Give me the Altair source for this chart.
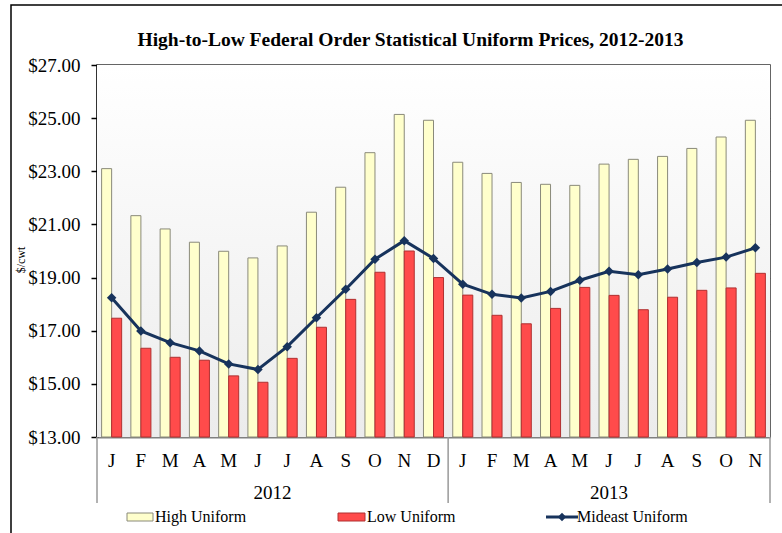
import altair as alt
import pandas as pd

months = ["J", "F", "M", "A", "M", "J", "J", "A", "S", "O", "N", "D",
          "J", "F", "M", "A", "M", "J", "J", "A", "S", "O", "N"]
years = ["2012"] * 12 + ["2013"] * 11

high_uniform = [23.10, 21.33, 20.83, 20.33, 19.99, 19.74, 20.19, 21.46, 22.40, 23.70, 25.14, 24.92,
                23.34, 22.92, 22.58, 22.51, 22.47, 23.27, 23.45, 23.56, 23.86, 24.29, 24.92]
low_uniform = [17.47, 16.34, 16.00, 15.89, 15.30, 15.06, 15.96, 17.13, 18.18, 19.20, 20.00, 19.00,
               18.34, 17.58, 17.26, 17.84, 18.63, 18.33, 17.79, 18.26, 18.52, 18.61, 19.16]
mideast_uniform = [18.24, 16.99, 16.55, 16.24, 15.75, 15.54, 16.40, 17.49, 18.56, 19.69, 20.39, 19.72,
                   18.75, 18.37, 18.23, 18.48, 18.90, 19.24, 19.11, 19.32, 19.57, 19.77, 20.12]

title_text = "High-to-Low Federal Order Statistical Uniform Prices, 2012-2013"

keys = [f"{m}|{i:02d}" for i, m in enumerate(months)]

bars_df = pd.DataFrame({
    "key": keys * 2,
    "series": ["High Uniform"] * len(keys) + ["Low Uniform"] * len(keys),
    "value": high_uniform + low_uniform,
})
line_df = pd.DataFrame({"key": keys, "value": mideast_uniform})

W, H = 673, 372
FONT = "Liberation Serif"

xscale = alt.Scale(domain=keys, paddingInner=0, paddingOuter=0)
yscale = alt.Scale(domain=[13, 27], nice=False, zero=False)

xaxis = alt.Axis(
    title=None, labelExpr="split(datum.value, '|')[0]", labelAngle=0,
    labelFont=FONT, labelFontSize=19, labelColor="black", labelPadding=14,
    ticks=False, domainColor="#808080", domainWidth=2, grid=False,
)
yaxis = alt.Axis(
    title=None, values=list(range(13, 28, 2)), format="$,.2f",
    labelFont=FONT, labelFontSize=19, labelColor="black", labelPadding=11,
    tickColor="black", tickSize=6, tickWidth=1.5,
    domainColor="black", domainWidth=2,
    grid=True, gridColor="#555555", gridWidth=1,
)

# background gradient of the plot area
bg = alt.Chart(pd.DataFrame({"a": [0]})).mark_rect(
    fill=alt.Gradient(gradient="linear",
                      stops=[alt.GradientStop(color="#ffffff", offset=0),
                             alt.GradientStop(color="#ececec", offset=1)],
                      x1=0, x2=0, y1=0, y2=1)
).encode(x=alt.value(0), x2=alt.value(W), y=alt.value(0), y2=alt.value(H))

# outer frame
frame = alt.Chart(pd.DataFrame({"a": [0]})).mark_rect(
    fill=None, stroke="black", strokeWidth=1.5
).encode(x=alt.value(-86), x2=alt.value(W + 40), y=alt.value(-60), y2=alt.value(H + 120))

# chart title
title = alt.Chart(pd.DataFrame({"t": [title_text]})).mark_text(
    font=FONT, fontSize=19.5, fontWeight="bold", color="black", align="center", baseline="middle"
).encode(x=alt.value(W / 2 - 23), y=alt.value(-25), text="t:N")

bars = alt.Chart(bars_df).mark_bar(strokeWidth=1).encode(
    x=alt.X("key:N", scale=xscale, axis=xaxis),
    xOffset=alt.XOffset("series:N", scale=alt.Scale(domain=["High Uniform", "Low Uniform"],
                                                      paddingOuter=0.46, paddingInner=0)),
    y=alt.Y("value:Q", scale=yscale, axis=yaxis),
    y2=alt.datum(13),
    fill=alt.Fill("series:N", scale=alt.Scale(domain=["High Uniform", "Low Uniform"],
                                              range=["#FFFFCC", "#FF4B4B"]), legend=None),
    stroke=alt.Stroke("series:N", scale=alt.Scale(domain=["High Uniform", "Low Uniform"],
                                                  range=["#8a8a7a", "#b03030"]), legend=None),
)

line = alt.Chart(line_df).mark_line(color="#17335C", strokeWidth=3).encode(
    x=alt.X("key:N", scale=xscale),
    y=alt.Y("value:Q", scale=yscale),
)
points = alt.Chart(line_df).mark_point(shape="diamond", filled=True, size=90,
                                       color="#17335C", opacity=1).encode(
    x=alt.X("key:N", scale=xscale),
    y=alt.Y("value:Q", scale=yscale),
)

# year labels
y2012 = alt.Chart(pd.DataFrame({"key": [keys[6]], "year": ["2012"]})).mark_text(
    font=FONT, fontSize=19, baseline="middle", align="center", color="black"
).encode(x=alt.X("key:N", scale=xscale, bandPosition=0), y=alt.value(H + 56), text="year:N")
y2013 = alt.Chart(pd.DataFrame({"key": [keys[17]], "year": ["2013"]})).mark_text(
    font=FONT, fontSize=19, baseline="middle", align="center", color="black"
).encode(x=alt.X("key:N", scale=xscale, bandPosition=0.5), y=alt.value(H + 56), text="year:N")

# separators between groups
sep_df = pd.DataFrame({"key": [keys[0], keys[12]]})
seps = alt.Chart(sep_df).mark_rule(color="#999999", strokeWidth=1.5).encode(
    x=alt.X("key:N", scale=xscale, bandPosition=0), y=alt.value(H), y2=alt.value(H + 66)
)
sep_right = alt.Chart(pd.DataFrame({"key": [keys[-1]]})).mark_rule(color="#999999", strokeWidth=1.5).encode(
    x=alt.X("key:N", scale=xscale, bandPosition=1), y=alt.value(H), y2=alt.value(H + 66)
)

# y axis title
ytitle = alt.Chart(pd.DataFrame({"t": ["$/cwt"]})).mark_text(
    font=FONT, fontSize=12, angle=270, align="center", baseline="middle", color="black"
).encode(x=alt.value(-76), y=alt.value(195), text="t:N")

# legend
LY = H + 80
leg_high_box = alt.Chart(pd.DataFrame({"a": [0]})).mark_rect(
    fill="#FFFFCC", stroke="#8a8a7a", strokeWidth=1
).encode(x=alt.value(30), x2=alt.value(56), y=alt.value(LY - 4), y2=alt.value(LY + 4))
leg_low_box = alt.Chart(pd.DataFrame({"a": [0]})).mark_rect(
    fill="#FF4B4B", stroke="#b03030", strokeWidth=1
).encode(x=alt.value(241), x2=alt.value(268), y=alt.value(LY - 4), y2=alt.value(LY + 4))
leg_line = alt.Chart(pd.DataFrame({"a": [0]})).mark_rule(
    color="#17335C", strokeWidth=3
).encode(x=alt.value(449), x2=alt.value(481), y=alt.value(LY))
leg_pt = alt.Chart(pd.DataFrame({"a": [0]})).mark_point(
    shape="diamond", filled=True, size=70, color="#17335C", opacity=1
).encode(x=alt.value(465), y=alt.value(LY))
leg_text_df = pd.DataFrame({"label": ["High Uniform", "Low Uniform", "Mideast Uniform"],
                            "px": [58, 270, 480]})
leg_texts = alt.Chart(leg_text_df).mark_text(
    font=FONT, fontSize=16, align="left", baseline="middle", color="black"
).encode(x=alt.X("px:Q", scale=alt.Scale(domain=[0, W], range=[0, W]), axis=None),
         y=alt.value(LY), text="label:N")

chart = alt.layer(
    bg, bars, line, points, y2012, y2013, seps, sep_right, ytitle,
    leg_high_box, leg_low_box, leg_line, leg_pt, frame, title,
).resolve_scale(x="shared")

full = alt.layer(chart, leg_texts).resolve_scale(x="independent").properties(
    width=W, height=H,
    autosize=alt.AutoSizeParams(type="none"),
    padding={"left": 97, "top": 65, "right": 12, "bottom": 96},
    background="white",
).configure_view(stroke="#333333", strokeWidth=1.5)

full.save("out.html", embed_options={"renderer": "svg", "actions": False})
